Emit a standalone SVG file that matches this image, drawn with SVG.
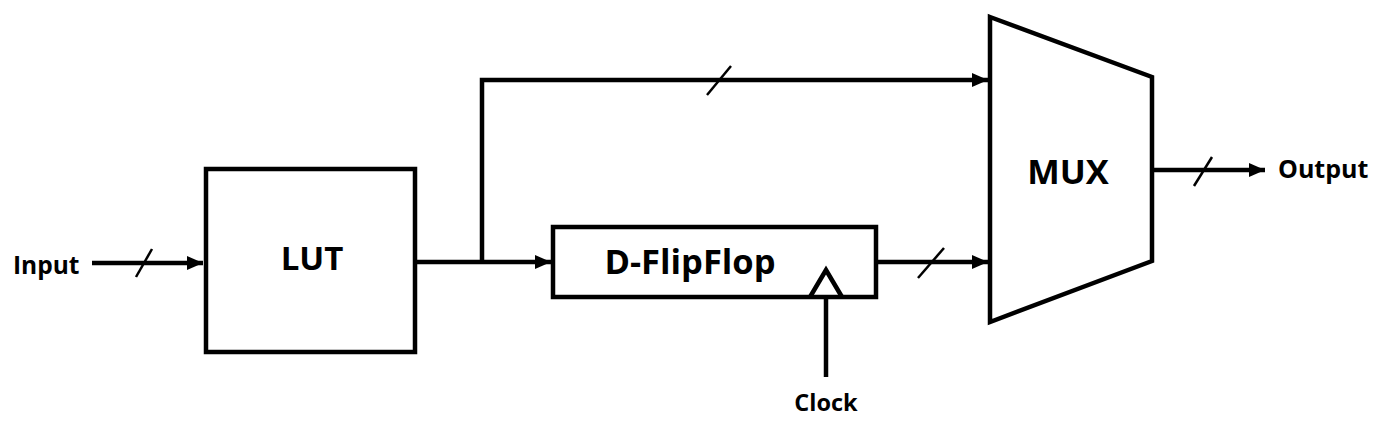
<svg xmlns="http://www.w3.org/2000/svg" width="1382" height="426" viewBox="0 0 1382 426">
<defs>
<marker id="arr" markerWidth="16" markerHeight="14" refX="16" refY="7" orient="auto" markerUnits="userSpaceOnUse">
<path d="M0,0 L16,7 L0,14 Z" fill="#000"/>
</marker>
<style>
.box{fill:#fff;stroke:#000;stroke-width:4.5}
.w{fill:none;stroke:#000;stroke-width:4.5}
.sl{stroke:#000;stroke-width:2.5}
.t{font-family:"Open Sans","Liberation Sans",sans-serif;font-weight:bold;fill:#000}
</style>
</defs>
<rect width="1382" height="426" fill="#fff"/>
<g id="connectors">
<line class="w" x1="92" y1="263" x2="203" y2="263" marker-end="url(#arr)"/>
<line class="sl" x1="136" y1="277" x2="152" y2="249"/>
<line class="w" x1="415" y1="262" x2="551" y2="262" marker-end="url(#arr)"/>
<polyline class="w" points="482,262 482,80 988,80" marker-end="url(#arr)"/>
<line class="sl" x1="707" y1="95" x2="731" y2="66"/>
<line class="w" x1="876" y1="262" x2="988" y2="262" marker-end="url(#arr)"/>
<line class="sl" x1="918" y1="278" x2="944" y2="248"/>
<line class="w" x1="826" y1="297" x2="826" y2="377"/>
<line class="w" x1="1152" y1="170" x2="1265" y2="170" marker-end="url(#arr)"/>
<line class="sl" x1="1194" y1="186" x2="1212" y2="157"/>
</g>
<g id="input">
<text class="t" x="13" y="274" font-size="24.5">Input</text>
</g>
<g id="lut">
<rect class="box" x="206" y="169" width="209" height="183"/>
<text class="t" x="312" y="270" font-size="33" text-anchor="middle">LUT</text>
</g>
<g id="dff">
<rect class="box" x="553" y="227" width="323" height="70"/>
<text class="t" x="690" y="274" font-size="34.5" text-anchor="middle">D-FlipFlop</text>
<polyline class="w" points="810,297 826,270 842,297"/>
</g>
<g id="clock">
<text class="t" x="826" y="411" font-size="23.5" text-anchor="middle">Clock</text>
</g>
<g id="mux">
<polygon class="box" points="990,17 1152,77 1152,261 990,322"/>
<text class="t" x="1068" y="184" font-size="34.5" text-anchor="middle">MUX</text>
</g>
<g id="output">
<text class="t" x="1278" y="178" font-size="25">Output</text>
</g>
</svg>
